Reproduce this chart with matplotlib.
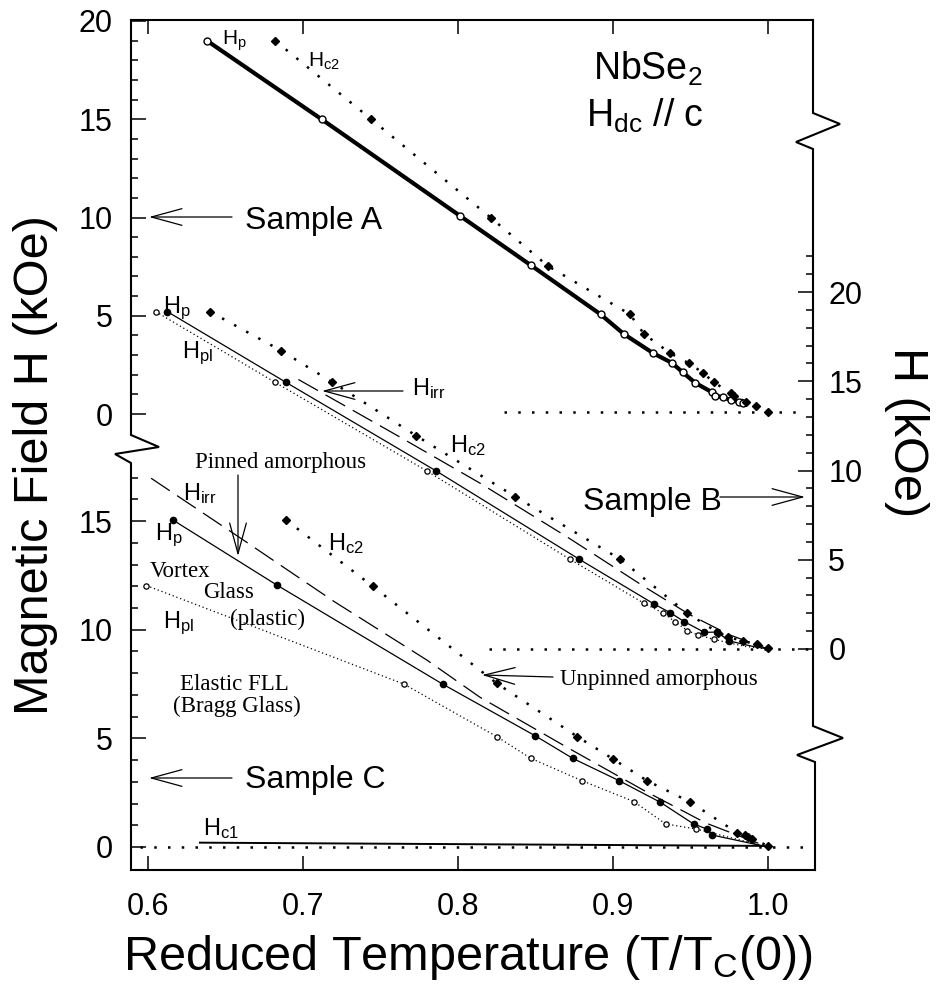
import matplotlib
matplotlib.use("Agg")
import matplotlib.pyplot as plt
from matplotlib.lines import Line2D

plt.rcParams['font.family'] = 'Liberation Sans'
plt.rcParams['mathtext.fontset'] = 'custom'
plt.rcParams['mathtext.rm'] = 'Liberation Sans'
plt.rcParams['mathtext.it'] = 'Liberation Sans'
plt.rcParams['mathtext.default'] = 'regular'

# ---------------------------------------------------------------
# data (T / Tc(0), H in kOe)
# ---------------------------------------------------------------
# Sample A  (left axis, upper part)
a_hp_t = [0.638, 0.712, 0.801, 0.847, 0.892, 0.907, 0.926, 0.938, 0.945, 0.953,
          0.964, 0.966, 0.971, 0.976, 0.981, 0.984]
a_hp_h = [19.0, 15.0, 10.1, 7.57, 5.07, 4.07, 3.09, 2.60, 2.12, 1.59,
          1.10, 0.93, 0.85, 0.71, 0.63, 0.58]
a_hc2_t = [0.682, 0.744, 0.821, 0.858, 0.911, 0.920, 0.937, 0.949, 0.958, 0.965,
           0.976, 0.978, 0.986, 0.992, 1.000]
a_hc2_h = [19.0, 15.0, 10.0, 7.53, 5.07, 4.07, 3.09, 2.58, 2.10, 1.61,
           1.08, 0.92, 0.61, 0.41, 0.10]

# Sample B  (right axis)
b_hp_t = [0.6125, 0.689, 0.786, 0.878, 0.9265, 0.937, 0.946, 0.959, 0.967, 0.975, 0.990, 1.000]
b_hp_h = [18.9, 14.94, 9.97, 5.04, 2.52, 2.03, 1.53, 0.93, 0.95, 0.45, 0.15, 0.0]
b_hpl_t = [0.605, 0.682, 0.780, 0.872, 0.920, 0.932, 0.940, 0.948, 0.955, 0.965, 0.985, 1.000]
b_hpl_h = [18.9, 14.94, 9.97, 5.04, 2.56, 2.03, 1.53, 1.03, 0.78, 0.54, 0.15, 0.0]
b_hirr_t = [0.697, 0.760, 0.814, 0.870, 0.920, 0.950, 0.975, 1.000]
b_hirr_h = [15.1, 12.0, 9.3, 6.3, 3.5, 1.9, 0.8, 0.0]
b_hc2_t = [0.640, 0.686, 0.719, 0.773, 0.837, 0.9045, 0.9475, 0.968, 0.974, 0.984, 0.993, 1.000]
b_hc2_h = [18.9, 16.71, 14.94, 11.95, 8.53, 5.04, 2.03, 0.91, 0.69, 0.43, 0.28, 0.04]

# Sample C  (left axis, lower part)
c_hp_t = [0.616, 0.683, 0.790, 0.850, 0.874, 0.904, 0.9305, 0.952, 0.9605, 0.964, 1.000]
c_hp_h = [15.05, 12.06, 7.5, 5.11, 4.08, 3.05, 2.06, 1.06, 0.83, 0.55, 0.0]
c_hpl_t = [0.599, 0.765, 0.825, 0.847, 0.880, 0.9135, 0.934, 0.9535, 1.000]
c_hpl_h = [12.03, 7.5, 5.08, 4.08, 3.05, 2.09, 1.06, 0.83, 0.0]
c_hirr_t = [0.602, 0.660, 0.720, 0.780, 0.814, 0.870, 0.920, 0.960, 1.000]
c_hirr_h = [16.97, 14.2, 11.3, 8.6, 6.9, 4.6, 2.6, 1.1, 0.0]
c_hc2_t = [0.689, 0.745, 0.825, 0.877, 0.900, 0.922, 0.950, 0.980, 0.985, 0.987, 0.990, 1.000]
c_hc2_h = [15.05, 12.0, 7.53, 5.08, 4.05, 3.05, 2.06, 0.66, 0.55, 0.45, 0.35, 0.06]
c_hc1_t = [0.6335, 1.000]
c_hc1_h = [0.2, 0.05]

x_ticks = [0.6, 0.7, 0.8, 0.9, 1.0]
x_ticklabels = ['0.6', '0.7', '0.8', '0.9', '1.0']
a_ticks = [0, 5, 10, 15, 20]
b_ticks = [0, 5, 10, 15, 20]
c_ticks = [0, 5, 10, 15]

# ---------------------------------------------------------------
# layout in pixels
# ---------------------------------------------------------------
FW, FH = 937, 986
L, T, R, B = 131, 20, 813, 870
PX_T = 1550.0          # px per unit of T
X_06 = 148             # px of T = 0.6


def rect():
    return [L / FW, 1 - B / FH, (R - L) / FW, (B - T) / FH]


def ylim_for(zero_px, per_unit):
    return ((zero_px - B) / per_unit, (zero_px - T) / per_unit)


xlim = (0.6 - (X_06 - L) / PX_T, 0.6 + (R - X_06) / PX_T)

fig = plt.figure(figsize=(FW / 100, FH / 100), dpi=100)

# overlay in pixel coordinates for frame, labels and arrows
axp = fig.add_axes([0, 0, 1, 1])
axp.set_xlim(0, FW)
axp.set_ylim(FH, 0)
axp.axis('off')


def panel(zero_px, per_unit):
    ax = fig.add_axes(rect())
    ax.patch.set_visible(False)
    for s in ax.spines.values():
        s.set_visible(False)
    ax.set_xlim(*xlim)
    ax.set_ylim(*ylim_for(zero_px, per_unit))
    ax.tick_params(axis='x', which='both', bottom=False, top=False, labelbottom=False)
    return ax


ax_a = panel(414, 19.65)
ax_b = panel(649, 17.85)
ax_c = panel(847, 21.73)

tick_kw = dict(direction='in', width=1.1, labelsize=22)
for ax, ticks, top in ((ax_a, a_ticks, 20), (ax_c, c_ticks, 17)):
    ax.set_yticks(ticks)
    ax.set_yticks([v for v in range(1, top + 1) if v % 5], minor=True)
    ax.tick_params(axis='y', which='major', length=11, pad=13, **tick_kw)
    ax.tick_params(axis='y', which='minor', length=5, direction='in', width=1.1)

ax_b.yaxis.tick_right()
ax_b.set_yticks(b_ticks)
ax_b.set_yticks([v for v in range(1, 23) if v % 5], minor=True)
ax_b.tick_params(axis='y', which='major', length=11, pad=11, left=False, right=True,
                 labelleft=False, labelright=True, **tick_kw)
ax_b.tick_params(axis='y', which='minor', length=5, direction='in', width=1.1,
                 left=False, right=True)

ax_c.set_xticks(x_ticks)
ax_c.set_xticklabels(x_ticklabels)
ax_c.tick_params(axis='x', which='major', bottom=True, top=True, labelbottom=True,
                 length=10, pad=16, **tick_kw)

# ---------------------------------------------------------------
# curves
# ---------------------------------------------------------------
dot_big = (0, (1, 4.5))
dot_fine = (0, (1, 2.2))
dash_long = (0, (18, 7))

# Sample A
ax_a.plot(a_hp_t, a_hp_h, '-', color='k', lw=3.0, zorder=3)
ax_a.plot(a_hp_t, a_hp_h, 'o', ms=5, mfc='white', mec='k', mew=1.0, zorder=4)
ax_a.plot(a_hc2_t, a_hc2_h, color='k', lw=1.8, ls=dot_big)
ax_a.plot(a_hc2_t, a_hc2_h, 'D', ms=4, color='k', zorder=4)
ax_a.plot([0.83, 1.02], [0.08, 0.08], color='k', lw=1.8, ls=dot_big)

# Sample B
ax_b.plot(b_hp_t, b_hp_h, '-', color='k', lw=0.9)
ax_b.plot(b_hp_t[:-2], b_hp_h[:-2], 'o', ms=4.5, color='k')
ax_b.plot(b_hpl_t, b_hpl_h, color='k', lw=0.9, ls=dot_fine)
ax_b.plot(b_hpl_t[:-2], b_hpl_h[:-2], 'o', ms=3.8, mfc='white', mec='k', mew=0.9)
ax_b.plot(b_hirr_t, b_hirr_h, color='k', lw=0.9, ls=dash_long)
ax_b.plot(b_hc2_t, b_hc2_h, color='k', lw=1.8, ls=dot_big)
ax_b.plot(b_hc2_t, b_hc2_h, 'D', ms=4, color='k')
ax_b.plot([0.82, 1.03], [0, 0], color='k', lw=1.8, ls=dot_big)

# Sample C
ax_c.plot(c_hp_t, c_hp_h, '-', color='k', lw=0.9)
ax_c.plot(c_hp_t[:-1], c_hp_h[:-1], 'o', ms=4.5, color='k')
ax_c.plot(c_hpl_t, c_hpl_h, color='k', lw=0.9, ls=dot_fine)
ax_c.plot(c_hpl_t[:-1], c_hpl_h[:-1], 'o', ms=3.8, mfc='white', mec='k', mew=0.9)
ax_c.plot(c_hirr_t, c_hirr_h, color='k', lw=0.9, ls=dash_long)
ax_c.plot(c_hc2_t, c_hc2_h, color='k', lw=1.8, ls=dot_big)
ax_c.plot(c_hc2_t, c_hc2_h, 'D', ms=4, color='k')
ax_c.plot(c_hc1_t, c_hc1_h, '-', color='k', lw=1.4)
ax_c.plot([0.595, 1.03], [0, 0], color='k', lw=1.8, ls=dot_big)

# ---------------------------------------------------------------
# frame with broken left and right axes
# ---------------------------------------------------------------
fk = dict(color='k', lw=1.5, solid_joinstyle='miter')
axp.add_line(Line2D([L, R], [T, T], **fk))
axp.add_line(Line2D([L, R + 2], [B, B], **fk))
axp.add_line(Line2D([L, L, 159, 115, L, L], [T, 435, 447, 454, 463, B], **fk))
axp.add_line(Line2D([R, R, 840, 796, R, R, 843, 797, R + 2, R + 2],
                    [T, 113, 124, 142, 149, 726, 738, 755, 762, B], **fk))

# ---------------------------------------------------------------
# texts and arrows
# ---------------------------------------------------------------
sans = dict(family='Liberation Sans', color='k')
serif = dict(family='Liberation Serif', color='k', size=16.5)


def arrow(x0, y0, x1, y1):
    axp.annotate('', xy=(x1, y1), xytext=(x0, y0),
                 arrowprops=dict(arrowstyle='->,head_length=1.1,head_width=0.3',
                                 lw=0.9, color='k', mutation_scale=20,
                                 shrinkA=0, shrinkB=0))


axp.text(36, 465, 'Magnetic Field H (kOe)', rotation=90, ha='center', va='center',
         size=35, **sans)
axp.text(468, 970, r'Reduced Temperature (T/T$_\mathregular{C}$(0))', ha='center',
         va='baseline', size=35, **sans)
axp.text(907, 432, 'H (kOe)', rotation=-90, ha='center', va='center', size=35, **sans)

axp.text(648, 80, r'NbSe$_2$', ha='center', va='baseline', size=27, **sans)
axp.text(645, 127, r'H$_{dc}$ // c', ha='center', va='baseline', size=27, **sans)

axp.text(245, 229, 'Sample A', va='baseline', size=23, **sans)
arrow(232, 217, 149, 217)
axp.text(583, 510, 'Sample B', va='baseline', size=23, **sans)
arrow(720, 497, 805, 497)
axp.text(245, 788, 'Sample C', va='baseline', size=23, **sans)
arrow(232, 778, 149, 778)

axp.text(222, 45, r'H$_p$', va='baseline', size=15, **sans)
axp.text(308, 67, r'H$_{c2}$', va='baseline', size=15, **sans)

axp.text(163, 313, r'H$_p$', va='baseline', size=17, **sans)
axp.text(182, 358, r'H$_{pl}$', va='baseline', size=17, **sans)
axp.text(412, 395, r'H$_{irr}$', va='baseline', size=17, **sans)
arrow(403, 391, 322, 391)
axp.text(450, 452, r'H$_{c2}$', va='baseline', size=17, **sans)

axp.text(195, 468, 'Pinned amorphous', va='baseline', **serif)
arrow(238, 475, 238, 556)
axp.text(183, 500, r'H$_{irr}$', va='baseline', size=17, **sans)
axp.text(155, 540, r'H$_p$', va='baseline', size=17, **sans)
axp.text(328, 550, r'H$_{c2}$', va='baseline', size=17, **sans)
axp.text(150, 577, 'Vortex', va='baseline', **serif)
axp.text(203, 598, 'Glass', va='baseline', **serif)
axp.text(230, 625, '(plastic)', va='baseline', **serif)
axp.text(163, 628, r'H$_{pl}$', va='baseline', size=17, **sans)
axp.text(180, 690, 'Elastic FLL', va='baseline', **serif)
axp.text(173, 712, '(Bragg Glass)', va='baseline', **serif)
axp.text(560, 685, 'Unpinned amorphous', va='baseline', **serif)
arrow(553, 677, 482, 675)
axp.text(203, 835, r'H$_{c1}$', va='baseline', size=17, **sans)

fig.savefig('out.png', dpi=100)
